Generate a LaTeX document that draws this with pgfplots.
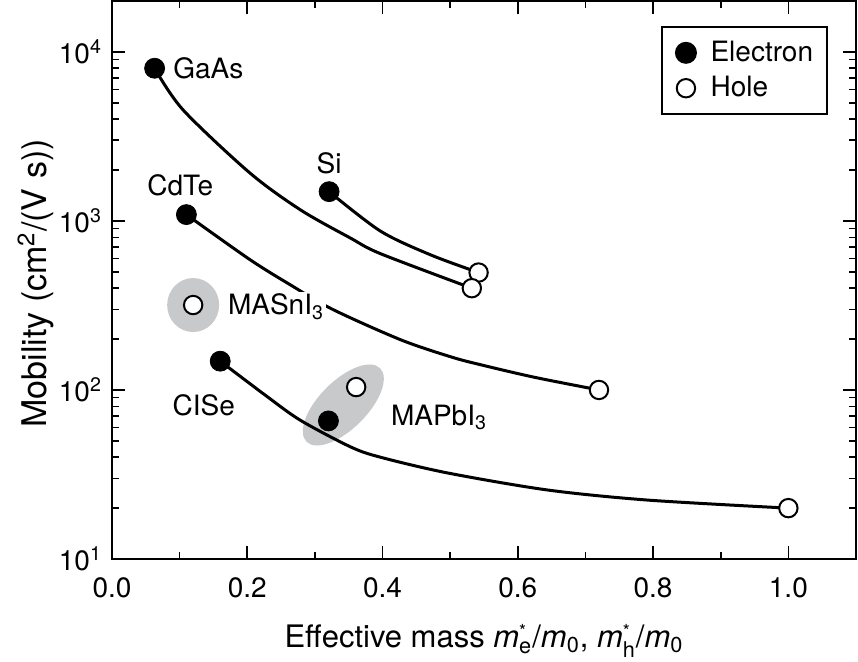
\documentclass[border=0pt]{standalone}
\usepackage{fontspec}
\setmainfont{TeX Gyre Heros}
\usepackage{amsmath}
\usepackage{pgfplots}
\pgfplotsset{compat=1.18}
\usetikzlibrary{shapes.geometric}
\definecolor{ell}{RGB}{200,201,202}
\pgfplotsset{mylegimg/.style={legend image code/.code={\node[inner sep=0pt, minimum width=17.5pt, minimum height=2pt, anchor=west] at (0pt,0pt) {}; \draw[##1] plot coordinates {(7.7pt,0pt)};}}}

\begin{document}
\begin{tikzpicture}
\useasboundingbox (-56pt,-51pt) rectangle (373pt,279.5pt);
\begin{axis}[
  at={(0,0)}, anchor=south west,
  scale only axis, width=372pt, height=279pt,
  xmin=0, xmax=1.1, ymin=10, ymax=20000,
  ymode=log,
  xtick={0,0.2,0.4,0.6,0.8,1.0},
  xticklabels={0.0,0.2,0.4,0.6,0.8,1.0},
  minor xtick={0.1,0.3,0.5,0.7,0.9},
  ytick={10,100,1000,10000},
  yticklabels={10\textsuperscript{1},10\textsuperscript{2},10\textsuperscript{3},10\textsuperscript{4}},
  minor ytick={20,30,40,50,60,70,80,90,200,300,400,500,600,700,800,900,2000,3000,4000,5000,6000,7000,8000,9000},
  tick align=inside,
  major tick length=6.5pt, minor tick length=3.5pt,
  axis line style={line width=1pt},
  every tick/.style={black, line width=0.8pt},
  tick label style={font=\fontsize{14}{16}\selectfont},
  xticklabel style={yshift=-6pt},
  yticklabel style={xshift=-1.5pt},
  xlabel={Effective mass \textit{m}$^{\raisebox{-0.6ex}{\small *}}_{\text{e}}$/\textit{m}\textsubscript{0}, \textit{m}$^{\raisebox{-0.6ex}{\small *}}_{\text{h}}$/\textit{m}\textsubscript{0}},
  ylabel={Mobility (cm\textsuperscript{2}/(V s))},
  xlabel style={at={(axis description cs:0.5,-0.158)}, anchor=base, font=\fontsize{15.5}{18}\selectfont},
  ylabel style={at={(axis description cs:-0.0874,0.494)}, anchor=base, font=\fontsize{17}{20}\selectfont},
  every axis legend/.append style={at={(0.962,0.955)}, anchor=north east, draw=black, line width=1pt,
    font=\fontsize{14}{16}\selectfont, inner xsep=4.8pt, inner ysep=5pt, row sep=2pt,
    cells={anchor=west}},
]
% gray highlight ellipses
\node[ellipse, fill=ell, minimum width=26pt, minimum height=27pt, inner sep=0pt] at (axis cs:0.12,318) {};
\node[ellipse, fill=ell, minimum width=52pt, minimum height=24pt, inner sep=0pt, rotate=45] at (axis cs:0.342,81.5) {};

% legend entries
\addlegendimage{only marks, mark=*, mark size=5pt, black, mylegimg}
\addlegendentry{Electron}
\addlegendimage{only marks, mark=*, mark size=4.6pt, mark options={fill=white, draw=black, line width=1pt}, mylegimg}
\addlegendentry{Hole}

% curves
\addplot[black, line width=1.5pt, smooth, forget plot] coordinates {
 (0.063,8000) (0.105,4540) (0.204,1920) (0.279,1160) (0.353,790) (0.397,640) (0.532,400)};
\addplot[black, line width=1.5pt, smooth, forget plot] coordinates {
 (0.321,1490) (0.397,870) (0.471,630) (0.542,495)};
\addplot[black, line width=1.5pt, smooth, forget plot] coordinates {
 (0.110,1090) (0.204,590) (0.264,418) (0.326,300) (0.427,198) (0.501,157) (0.545,141) (0.624,119) (0.720,100)};
\addplot[black, line width=1.5pt, smooth, forget plot] coordinates {
 (0.160,148) (0.230,91) (0.279,66) (0.353,46) (0.397,40) (0.496,32.3) (0.644,25.6) (0.793,22.3) (1.0,20)};

% holes
\addplot[only marks, mark=*, mark size=4.6pt, mark options={fill=white, draw=black, line width=1pt}, forget plot] coordinates {
 (0.542,495) (0.532,400) (0.720,100) (1.0,20) (0.120,318) (0.361,104)};
% electrons
\addplot[only marks, mark=*, mark size=5pt, black, forget plot] coordinates {
 (0.063,8000) (0.321,1490) (0.110,1090) (0.160,148) (0.320,65.6)};

% labels
\node[anchor=west, inner sep=0pt, font=\fontsize{14}{16}\selectfont] at (axis cs:0.090,8000) {GaAs};
\node[anchor=center, font=\fontsize{14}{16}\selectfont] at (axis cs:0.321,2200) {Si};
\node[anchor=center, font=\fontsize{14}{16}\selectfont] at (axis cs:0.101,1634) {CdTe};
\node[anchor=base west, fill=white, inner sep=1pt, font=\fontsize{14}{16}\selectfont] at (axis cs:0.168,278) {MASnI\textsubscript{3}};
\node[anchor=base west, inner sep=0pt, font=\fontsize{14}{16}\selectfont] at (axis cs:0.089,71) {CISe};
\node[anchor=base west, inner sep=0pt, font=\fontsize{14}{16}\selectfont] at (axis cs:0.412,62) {MAPbI\textsubscript{3}};
\end{axis}
\end{tikzpicture}
\end{document}
